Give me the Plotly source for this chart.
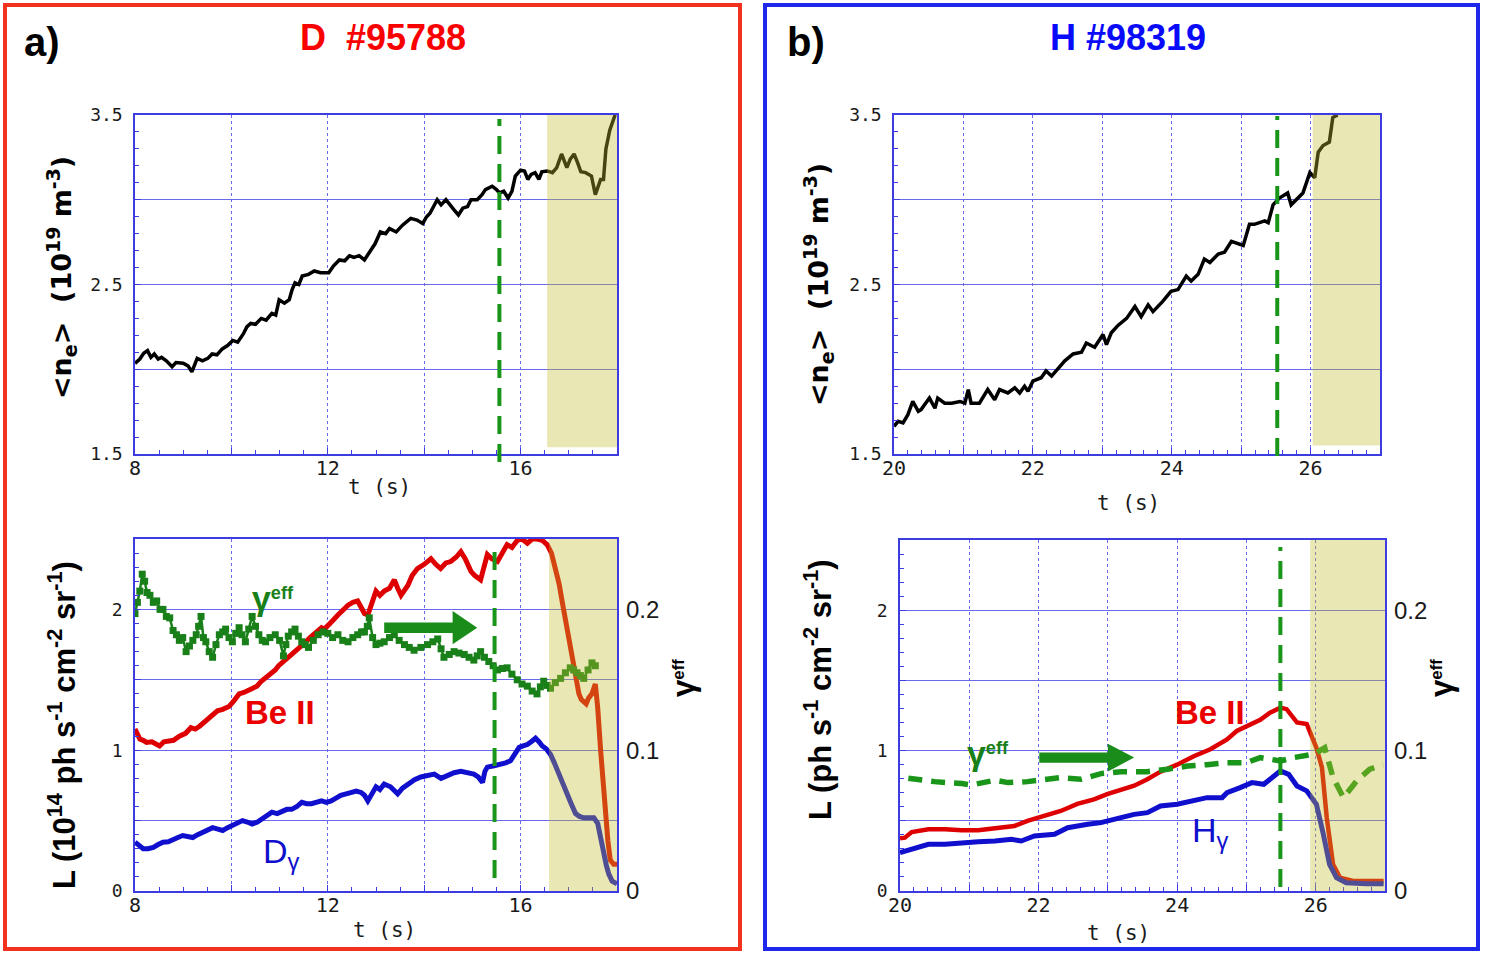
import plotly.graph_objects as go

W, H = 1487, 953
def px(x): return x / W
def py(y): return 1 - y / H

# ---------------- data ----------------
# panel a) D #95788, top: line-averaged density
ne_a_t = [8.0, 8.1, 8.18, 8.26, 8.33, 8.4, 8.48, 8.55, 8.65, 8.77, 8.85, 9.0, 9.1, 9.18, 9.29, 9.4, 9.51,
          9.6, 9.7, 9.81, 9.92, 10.03, 10.13, 10.25, 10.32, 10.4, 10.5, 10.62, 10.72, 10.84, 10.92, 10.99,
          11.1, 11.2, 11.26, 11.32, 11.4, 11.47, 11.6, 11.72, 11.85, 12.02, 12.12, 12.24, 12.35, 12.45,
          12.54, 12.65, 12.76, 12.88, 12.98, 13.09, 13.2, 13.28, 13.42, 13.55, 13.72, 13.85, 13.97, 14.05,
          14.12, 14.27, 14.35, 14.45, 14.55, 14.62, 14.71, 14.8, 14.9, 14.97, 15.1, 15.2, 15.27, 15.41,
          15.5, 15.56, 15.65, 15.74, 15.82, 15.89, 16.0, 16.08, 16.15, 16.22, 16.3, 16.38, 16.44, 16.55,
          16.66, 16.75, 16.85, 16.96, 17.03, 17.11, 17.18, 17.25, 17.35, 17.47, 17.55, 17.66, 17.72,
          17.77, 17.85, 17.96]
ne_a = [2.035, 2.06, 2.094, 2.11, 2.07, 2.09, 2.06, 2.07, 2.05, 2.015, 2.04, 2.035, 2.02, 1.985, 2.064,
        2.05, 2.064, 2.09, 2.085, 2.12, 2.14, 2.17, 2.16, 2.21, 2.25, 2.27, 2.265, 2.30, 2.29, 2.33, 2.32,
        2.41, 2.39, 2.41, 2.47, 2.51, 2.50, 2.55, 2.56, 2.58, 2.57, 2.57, 2.61, 2.645, 2.64, 2.67, 2.66,
        2.67, 2.645, 2.70, 2.74, 2.81, 2.80, 2.83, 2.81, 2.85, 2.89, 2.88, 2.86, 2.90, 2.92, 3.0, 2.97,
        3.0, 2.96, 2.94, 2.91, 2.95, 2.96, 3.0, 3.0, 3.03, 3.06, 3.08, 3.06, 3.04, 3.05, 3.01, 3.05,
        3.14, 3.175, 3.17, 3.12, 3.15, 3.16, 3.12, 3.165, 3.17, 3.16, 3.19, 3.27, 3.19, 3.24, 3.27, 3.22,
        3.165, 3.16, 3.14, 3.03, 3.12, 3.12, 3.30, 3.41, 3.5]

# panel a) bottom: Be II, D-gamma (left axis) and gamma_eff (right axis)
be_a_t = [8.0, 8.05, 8.1, 8.17, 8.24, 8.35, 8.45, 8.51, 8.6, 8.72, 8.8, 8.92, 9.05, 9.16, 9.25, 9.34, 9.45,
          9.54, 9.62, 9.71, 9.82, 9.95, 10.05, 10.16, 10.26, 10.36, 10.45, 10.53, 10.62, 10.7, 10.8, 10.91,
          10.98, 11.05, 11.15, 11.25, 11.35, 11.46, 11.55, 11.63, 11.75, 11.87, 11.93, 12.0, 12.1, 12.21,
          12.3, 12.42, 12.52, 12.62, 12.7, 12.76, 12.83, 12.92, 13.0, 13.08, 13.17, 13.28, 13.38, 13.45,
          13.52, 13.6, 13.66, 13.75, 13.86, 14.0, 14.14, 14.24, 14.34, 14.45, 14.55, 14.66, 14.76, 14.85,
          14.97, 15.05, 15.17, 15.24, 15.31, 15.4, 15.52, 15.62, 15.72, 15.82, 15.93, 16.03, 16.14, 16.24,
          16.34, 16.45, 16.55, 16.64, 16.72, 16.8, 16.86, 16.92, 16.97, 17.04, 17.1, 17.16, 17.21, 17.26,
          17.31, 17.36, 17.41, 17.48, 17.55, 17.6, 17.66, 17.71, 17.76, 17.81, 17.86, 17.93, 18.0]
be_a = [1.15, 1.12, 1.08, 1.07, 1.055, 1.06, 1.04, 1.03, 1.06, 1.066, 1.07, 1.10, 1.12, 1.16, 1.15, 1.17,
        1.20, 1.23, 1.25, 1.28, 1.29, 1.31, 1.35, 1.40, 1.41, 1.43, 1.44, 1.455, 1.49, 1.51, 1.54, 1.57,
        1.60, 1.62, 1.64, 1.68, 1.71, 1.74, 1.77, 1.80, 1.83, 1.87, 1.86, 1.89, 1.92, 1.96, 1.99, 2.03,
        2.05, 2.06, 2.01, 1.97, 1.96, 2.05, 2.13, 2.10, 2.13, 2.15, 2.21, 2.15, 2.10, 2.14, 2.17, 2.24,
        2.29, 2.32, 2.36, 2.32, 2.29, 2.33, 2.34, 2.37, 2.41, 2.36, 2.27, 2.24, 2.21, 2.30, 2.39, 2.36,
        2.34, 2.40, 2.46, 2.44, 2.49, 2.50, 2.47, 2.50, 2.50, 2.49, 2.46, 2.40, 2.29, 2.18, 2.06, 1.95,
        1.84, 1.72, 1.58, 1.47, 1.40, 1.36, 1.34, 1.33, 1.37, 1.40, 1.47, 1.30, 1.0, 0.75, 0.52, 0.36,
        0.22, 0.19, 0.19]

dg_a_t = [8.0, 8.08, 8.17, 8.27, 8.38, 8.48, 8.58, 8.69, 8.79, 8.89, 8.99, 9.1, 9.2, 9.3, 9.4, 9.5, 9.61,
          9.72, 9.82, 9.92, 10.02, 10.12, 10.23, 10.33, 10.43, 10.54, 10.64, 10.74, 10.84, 10.95, 11.05,
          11.15, 11.25, 11.36, 11.46, 11.56, 11.66, 11.77, 11.87, 11.97, 12.07, 12.17, 12.27, 12.38, 12.49,
          12.59, 12.69, 12.76, 12.83, 12.92, 13.0, 13.08, 13.17, 13.3, 13.45, 13.55, 13.66, 13.8, 13.93,
          14.07, 14.21, 14.35, 14.48, 14.62, 14.76, 14.9, 15.03, 15.12, 15.21, 15.26, 15.31, 15.45, 15.59,
          15.69, 15.79, 15.88, 15.97, 16.05, 16.14, 16.22, 16.31, 16.38, 16.45, 16.53, 16.62, 16.7, 16.79,
          16.88, 16.97, 17.05, 17.14, 17.22, 17.31, 17.42, 17.52, 17.6, 17.66, 17.72, 17.78, 17.83, 17.9,
          18.0]
dg_a = [0.347, 0.32, 0.30, 0.30, 0.31, 0.33, 0.347, 0.35, 0.37, 0.38, 0.394, 0.39, 0.38, 0.40, 0.417,
        0.43, 0.45, 0.44, 0.43, 0.45, 0.465, 0.48, 0.50, 0.49, 0.476, 0.49, 0.51, 0.53, 0.56, 0.55, 0.57,
        0.58, 0.58, 0.60, 0.63, 0.62, 0.62, 0.63, 0.64, 0.63, 0.64, 0.66, 0.68, 0.69, 0.70, 0.71, 0.70,
        0.68, 0.64, 0.70, 0.74, 0.72, 0.76, 0.74, 0.69, 0.73, 0.76, 0.79, 0.81, 0.82, 0.83, 0.80, 0.82,
        0.84, 0.85, 0.84, 0.83, 0.81, 0.77, 0.85, 0.88, 0.89, 0.90, 0.91, 0.925, 0.97, 1.02, 1.03, 1.04,
        1.06, 1.085, 1.06, 1.03, 1.01, 0.97, 0.91, 0.83, 0.76, 0.69, 0.62, 0.55, 0.53, 0.52, 0.52, 0.52,
        0.48, 0.37, 0.26, 0.18, 0.12, 0.07, 0.05]

ge_a_t = [8.0, 8.05, 8.1, 8.15, 8.2, 8.25, 8.31, 8.38, 8.45, 8.52, 8.58, 8.65, 8.72, 8.79, 8.86, 8.92, 8.99,
          9.06, 9.13, 9.2, 9.27, 9.32, 9.37, 9.42, 9.47, 9.54, 9.61, 9.68, 9.75, 9.82, 9.88, 9.95, 10.02,
          10.09, 10.16, 10.22, 10.29, 10.36, 10.43, 10.5, 10.57, 10.64, 10.71, 10.8, 10.91, 11.0, 11.08,
          11.13, 11.18, 11.25, 11.32, 11.39, 11.46, 11.53, 11.6, 11.7, 11.8, 11.9, 12.0, 12.1, 12.21, 12.31,
          12.42, 12.52, 12.62, 12.7, 12.76, 12.82, 12.86, 12.93, 13.0, 13.08, 13.17, 13.28, 13.38, 13.48,
          13.59, 13.69, 13.79, 13.93, 14.07, 14.18, 14.28, 14.35, 14.41, 14.52, 14.62, 14.72, 14.83, 14.93,
          15.03, 15.1, 15.17, 15.25, 15.34, 15.43, 15.52, 15.62, 15.72, 15.82, 15.93, 16.03, 16.14, 16.24,
          16.34, 16.41, 16.48, 16.55, 16.62, 16.72, 16.83, 16.93, 17.03, 17.1, 17.17, 17.24, 17.31, 17.4,
          17.48, 17.55]
ge_a = [0.197, 0.205, 0.213, 0.225, 0.220, 0.212, 0.210, 0.205, 0.206, 0.200, 0.200, 0.195, 0.194, 0.185,
        0.182, 0.178, 0.180, 0.170, 0.174, 0.178, 0.182, 0.188, 0.195, 0.180, 0.177, 0.170, 0.166, 0.175,
        0.182, 0.184, 0.186, 0.180, 0.177, 0.183, 0.187, 0.182, 0.177, 0.186, 0.195, 0.188, 0.182, 0.178,
        0.177, 0.180, 0.182, 0.178, 0.167, 0.175, 0.181, 0.184, 0.186, 0.181, 0.177, 0.175, 0.173, 0.178,
        0.182, 0.184, 0.183, 0.180, 0.182, 0.178, 0.177, 0.180, 0.182, 0.184, 0.184, 0.188, 0.194, 0.180,
        0.175, 0.176, 0.177, 0.180, 0.182, 0.178, 0.175, 0.173, 0.171, 0.173, 0.175, 0.177, 0.179, 0.172,
        0.166, 0.168, 0.170, 0.169, 0.168, 0.166, 0.164, 0.167, 0.170, 0.166, 0.163, 0.160, 0.157, 0.158,
        0.1585, 0.154, 0.150, 0.147, 0.1455, 0.142, 0.140, 0.145, 0.149, 0.146, 0.144, 0.148, 0.151, 0.155,
        0.1585, 0.157, 0.155, 0.153, 0.151, 0.157, 0.162, 0.160]

# panel b) H #98319, top: density
ne_b_t = [20.0, 20.06, 20.13, 20.2, 20.27, 20.35, 20.39, 20.51, 20.59, 20.63, 20.73, 20.83, 20.95, 21.02,
          21.07, 21.11, 21.23, 21.35, 21.45, 21.52, 21.64, 21.74, 21.81, 21.88, 21.93, 22.0, 22.12, 22.19,
          22.27, 22.36, 22.46, 22.58, 22.7, 22.77, 22.89, 23.01, 23.06, 23.13, 23.23, 23.35, 23.47, 23.56,
          23.66, 23.73, 23.87, 23.99, 24.09, 24.21, 24.28, 24.38, 24.47, 24.55, 24.67, 24.76, 24.86, 25.03,
          25.12, 25.19, 25.34, 25.39, 25.46, 25.55, 25.67, 25.72, 25.82, 25.89, 25.99, 26.06, 26.11, 26.18,
          26.27, 26.32, 26.39]
ne_b = [1.663, 1.693, 1.683, 1.732, 1.81, 1.752, 1.762, 1.83, 1.77, 1.83, 1.80, 1.80, 1.81, 1.80, 1.88,
        1.80, 1.80, 1.88, 1.82, 1.88, 1.86, 1.89, 1.86, 1.90, 1.87, 1.93, 1.95, 1.99, 1.96, 2.0, 2.05, 2.09,
        2.10, 2.155, 2.13, 2.205, 2.145, 2.215, 2.26, 2.30, 2.37, 2.31, 2.38, 2.34, 2.40, 2.46, 2.47, 2.55,
        2.52, 2.56, 2.65, 2.63, 2.68, 2.69, 2.755, 2.73, 2.855, 2.855, 2.875, 2.865, 2.97, 3.01, 3.04, 2.97,
        3.01, 3.04, 3.16, 3.13, 3.28, 3.32, 3.34, 3.485, 3.5]

# panel b) bottom
be_b_t = [20.0, 20.07, 20.17, 20.41, 20.65, 20.89, 21.13, 21.37, 21.65, 21.84, 22.08, 22.32, 22.56, 22.8,
          22.99, 23.19, 23.38, 23.57, 23.76, 24.0, 24.24, 24.48, 24.72, 24.86, 25.0, 25.2, 25.34, 25.49,
          25.58, 25.73, 25.87, 26.01, 26.09, 26.16, 26.25, 26.35, 26.54, 26.98]
be_b = [0.375, 0.38, 0.42, 0.44, 0.44, 0.432, 0.432, 0.447, 0.463, 0.50, 0.534, 0.57, 0.62, 0.653, 0.69,
        0.72, 0.75, 0.796, 0.85, 0.90, 0.96, 1.01, 1.08, 1.14, 1.175, 1.22, 1.27, 1.306, 1.295, 1.20, 1.19,
        1.02, 0.88, 0.52, 0.19, 0.095, 0.071, 0.071]

hg_b_t = [20.0, 20.17, 20.41, 20.65, 20.89, 21.13, 21.37, 21.61, 21.75, 21.94, 22.23, 22.42, 22.71, 22.9,
          23.19, 23.38, 23.57, 23.76, 24.0, 24.24, 24.43, 24.65, 24.72, 24.91, 25.08, 25.25, 25.37, 25.49,
          25.61, 25.73, 25.87, 26.01, 26.11, 26.2, 26.3, 26.44, 26.73, 26.98]
hg_b = [0.273, 0.297, 0.333, 0.333, 0.344, 0.35, 0.356, 0.368, 0.356, 0.392, 0.404, 0.451, 0.475, 0.487,
        0.523, 0.546, 0.558, 0.606, 0.618, 0.641, 0.665, 0.665, 0.70, 0.736, 0.772, 0.76, 0.808, 0.855,
        0.831, 0.748, 0.713, 0.618, 0.404, 0.19, 0.095, 0.059, 0.052, 0.052]

ge_b_t = [20.12, 20.5, 20.89, 21.03, 21.37, 21.56, 21.84, 22.04, 22.32, 22.61, 22.9, 23.19, 23.57, 23.86,
          24.15, 24.43, 24.72, 25.0, 25.2, 25.49, 25.68, 25.97, 26.13, 26.25, 26.4, 26.59, 26.78, 26.97]
ge_b = [0.0803, 0.0779, 0.0765, 0.0755, 0.0789, 0.0772, 0.0779, 0.0789, 0.0808, 0.0796, 0.0836, 0.085,
        0.085, 0.0867, 0.089, 0.090, 0.0914, 0.0914, 0.095, 0.0926, 0.095, 0.0974, 0.102, 0.0808, 0.0665,
        0.0784, 0.0867, 0.090]

# ---------------- styling ----------------
AX = 'rgb(60,60,225)'
GRID = 'rgb(105,105,238)'
RED = 'rgb(222,0,0)'
BLUE = 'rgb(15,15,205)'
GREEN = 'rgb(25,128,25)'
DGREEN = 'rgb(25,150,25)'
SHADE = 'rgba(195,189,44,0.36)'
TXT = '#1a1a1a'
MONO = 'DejaVu Sans Mono'

TL = (135, 617, 115, 454)
BL = (135, 617, 539, 891)
TR = (894, 1380, 115, 454)
BR = (900, 1385, 540, 891)

def xaxis(box, rng, tv, tt, mdt, fsize, anchor):
    return dict(domain=[px(box[0]), px(box[1])], range=rng, anchor=anchor,
                tickmode='array', tickvals=tv, ticktext=tt,
                showgrid=True, gridcolor=GRID, gridwidth=1, griddash='3px,3px',
                showline=True, linecolor=AX, linewidth=1.5, mirror=True,
                ticks='inside', ticklen=6, tickcolor=AX, tickwidth=1,
                minor=dict(dtick=mdt, ticks='inside', ticklen=4, tickcolor=AX, showgrid=False),
                tickfont=dict(family=MONO, size=fsize, color=TXT), ticklabelstandoff=-5,
                zeroline=False, fixedrange=True)

def yaxis(box, rng, tv, tt, mdt, fsize, anchor, fam=MONO):
    return dict(domain=[py(box[3]), py(box[2])], range=rng, anchor=anchor,
                tickmode='array', tickvals=tv, ticktext=tt,
                showgrid=True, gridcolor=GRID, gridwidth=1,
                showline=True, linecolor=AX, linewidth=1.5, mirror=True,
                ticks='inside', ticklen=6, tickcolor=AX, tickwidth=1,
                minor=dict(dtick=mdt, ticks='inside', ticklen=4, tickcolor=AX, showgrid=False),
                tickfont=dict(family=fam, size=fsize, color=TXT),
                ticklabelstandoff=7, zeroline=False, fixedrange=True)

def y2axis(box, overlay, anchor):
    return dict(domain=[py(box[3]), py(box[2])], range=[0, 0.25], anchor=anchor,
                overlaying=overlay, side='right', tickmode='array',
                tickvals=[0, 0.1, 0.2], ticktext=['0', '0.1', '0.2'],
                showgrid=False, showline=False, ticks='', zeroline=False,
                tickfont=dict(family='Liberation Sans', size=24, color=TXT),
                ticklabelstandoff=8, fixedrange=True)

fig = go.Figure()

# top-left
fig.add_trace(go.Scatter(x=ne_a_t, y=ne_a, mode='lines', line=dict(color='black', width=3.5),
                         xaxis='x', yaxis='y', showlegend=False))
# bottom-left
fig.add_trace(go.Scatter(x=be_a_t, y=be_a, mode='lines', line=dict(color=RED, width=5),
                         xaxis='x2', yaxis='y2', showlegend=False))
fig.add_trace(go.Scatter(x=dg_a_t, y=dg_a, mode='lines', line=dict(color=BLUE, width=5),
                         xaxis='x2', yaxis='y2', showlegend=False))
fig.add_trace(go.Scatter(x=ge_a_t, y=ge_a, mode='lines+markers', line=dict(color=GREEN, width=2.5),
                         marker=dict(symbol='square', size=7, color=GREEN),
                         xaxis='x2', yaxis='y3', showlegend=False))
# top-right
fig.add_trace(go.Scatter(x=ne_b_t, y=ne_b, mode='lines', line=dict(color='black', width=3.5),
                         xaxis='x3', yaxis='y4', showlegend=False))
# bottom-right
fig.add_trace(go.Scatter(x=be_b_t, y=be_b, mode='lines', line=dict(color=RED, width=4.5),
                         xaxis='x4', yaxis='y5', showlegend=False))
fig.add_trace(go.Scatter(x=hg_b_t, y=hg_b, mode='lines', line=dict(color=BLUE, width=5),
                         xaxis='x4', yaxis='y5', showlegend=False))
fig.add_trace(go.Scatter(x=ge_b_t, y=ge_b, mode='lines', line=dict(color=DGREEN, width=5.5, dash='14px,9px'),
                         xaxis='x4', yaxis='y6', showlegend=False))

shapes = []
# frames of the two panels
shapes.append(dict(type='rect', xref='paper', yref='paper', x0=px(5), x1=px(740), y0=py(949), y1=py(5),
                   line=dict(color='rgb(240,50,30)', width=4)))
shapes.append(dict(type='rect', xref='paper', yref='paper', x0=px(765), x1=px(1478), y0=py(949), y1=py(5),
                   line=dict(color='rgb(30,40,235)', width=4)))
# shaded (disruption) regions, drawn over the traces
for xr, yr, x0, x1, y0, y1 in [('x', 'y', 16.55, 18.0, 1.54, 3.5), ('x2', 'y2', 16.59, 18.0, 0, 2.5),
                               ('x3', 'y4', 26.03, 27.0, 1.55, 3.5), ('x4', 'y5', 25.92, 27.0, 0, 2.5)]:
    shapes.append(dict(type='rect', xref=xr, yref=yr, x0=x0, x1=x1, y0=y0, y1=y1,
                       fillcolor=SHADE, line=dict(width=0), layer='above'))
# vertical green dashed markers
for xr, xv, ytop, ybot in [('x', 15.56, 119, 462), ('x2', 15.46, 542, 878),
                           ('x3', 25.52, 116, 456), ('x4', 25.49, 547, 887)]:
    shapes.append(dict(type='line', xref=xr, yref='paper', x0=xv, x1=xv, y0=py(ybot), y1=py(ytop),
                       line=dict(color=DGREEN, width=4, dash='18px,10px'), layer='above'))
# arrows
def arrow(xr, yr, t0, t1, t2, y, hs, hh, col):
    return dict(type='path', xref=xr, yref=yr,
                path=(f'M {t0},{y-hs} L {t1},{y-hs} L {t1},{y-hh} L {t2},{y} L {t1},{y+hh} '
                      f'L {t1},{y+hs} L {t0},{y+hs} Z'),
                fillcolor=col, line=dict(width=0), layer='above')
shapes.append(arrow('x2', 'y2', 13.17, 14.59, 15.10, 1.87, 0.037, 0.118, 'rgb(25,140,25)'))
shapes.append(arrow('x4', 'y5', 22.01, 23.0, 23.38, 0.95, 0.037, 0.098, 'rgb(25,140,25)'))

ann = []
def A(x, y, text, size, color=TXT, family='Liberation Sans', angle=0):
    ann.append(dict(xref='paper', yref='paper', x=px(x), y=py(y), text=text, showarrow=False,
                    xanchor='center', yanchor='middle', textangle=angle,
                    font=dict(family=family, size=size, color=color)))

GAM = '<b><span style="font-size:1.3em">γ</span><sup>eff</sup></b>'
A(42, 42, '<b>a)</b>', 40, 'black')
A(806, 42, '<b>b)</b>', 40, 'black')
A(383, 38, '<b>D  #95788</b>', 36, 'rgb(250,0,0)', 'Liberation Sans Narrow, Liberation Sans')
A(1128, 38, '<b>H #98319</b>', 36, 'rgb(10,10,250)', 'Liberation Sans Narrow, Liberation Sans')
A(61, 278, '<b>&lt;n<sub>e</sub>&gt;  (10<sup>19</sup> m<sup>-3</sup>)</b>', 27, 'black', 'DejaVu Sans', -90)
A(819, 285, '<b>&lt;n<sub>e</sub>&gt;  (10<sup>19</sup> m<sup>-3</sup>)</b>', 27, 'black', 'DejaVu Sans', -90)
A(62, 725, '<b>L (10<sup>14</sup> ph s<sup>-1</sup> cm<sup>-2</sup> sr<sup>-1</sup>)</b>', 31, 'black',
  'Liberation Sans', -90)
A(818, 690, '<b>L (ph s<sup>-1</sup> cm<sup>-2</sup> sr<sup>-1</sup>)</b>', 31, 'black', 'Liberation Sans', -90)
A(683, 678, GAM, 24, 'black', 'Liberation Sans', -90)
A(1441, 678, GAM, 24, 'black', 'Liberation Sans', -90)
A(379, 487, 't (s)', 21, TXT, MONO)
A(1128, 503, 't (s)', 21, TXT, MONO)
A(384, 930, 't (s)', 21, TXT, MONO)
A(1118, 933, 't (s)', 21, TXT, MONO)
# curve labels
A(273, 598, GAM, 26, GREEN)
A(280, 712, '<b>Be II</b>', 33, 'rgb(235,0,0)')
A(281, 853, 'D<sub>γ</sub>', 34, BLUE)
A(988, 753, GAM, 26, GREEN)
A(1210, 712, '<b>Be II</b>', 33, 'rgb(235,0,0)')
A(1210, 832, 'H<sub>γ</sub>', 34, BLUE)

# size comes from the (absolutely positioned) container below, so the page has no margin offset
fig.update_layout(
    autosize=True, margin=dict(l=0, r=0, t=0, b=0, autoexpand=False),
    paper_bgcolor='white', plot_bgcolor='white', showlegend=False,
    xaxis=xaxis(TL, [8, 18], [8, 10, 12, 14, 16, 18], ['8', '', '12', '', '16', ''], 0.5, 20, 'y'),
    yaxis=yaxis(TL, [1.5, 3.5], [1.5, 2, 2.5, 3, 3.5], ['1.5', '', '2.5', '', '3.5'], 0.1, 18, 'x'),
    xaxis2=xaxis(BL, [8, 18], [8, 10, 12, 14, 16, 18], ['8', '', '12', '', '16', ''], 0.5, 20, 'y2'),
    yaxis2=yaxis(BL, [0, 2.5], [0, 0.5, 1, 1.5, 2, 2.5], ['0', '', '1', '', '2', ''], 0.1, 18, 'x2'),
    yaxis3=y2axis(BL, 'y2', 'x2'),
    xaxis3=xaxis(TR, [20, 27], [20, 21, 22, 23, 24, 25, 26, 27], ['20', '', '22', '', '24', '', '26', ''],
                 0.2, 20, 'y4'),
    yaxis4=yaxis(TR, [1.5, 3.5], [1.5, 2, 2.5, 3, 3.5], ['1.5', '', '2.5', '', '3.5'], 0.1, 18, 'x3'),
    xaxis4=xaxis(BR, [20, 27], [20, 21, 22, 23, 24, 25, 26, 27], ['20', '', '22', '', '24', '', '26', ''],
                 0.2, 20, 'y5'),
    yaxis5=yaxis(BR, [0, 2.5], [0, 0.5, 1, 1.5, 2, 2.5], ['0', '', '1', '', '2', ''], 0.1, 18, 'x4'),
    yaxis6=y2axis(BR, 'y5', 'x4'),
    shapes=shapes, annotations=ann,
)

fig.write_html('out.html',
               default_width=f'{W}px; position:absolute; left:0px; top:0px',
               default_height=f'{H}px')
